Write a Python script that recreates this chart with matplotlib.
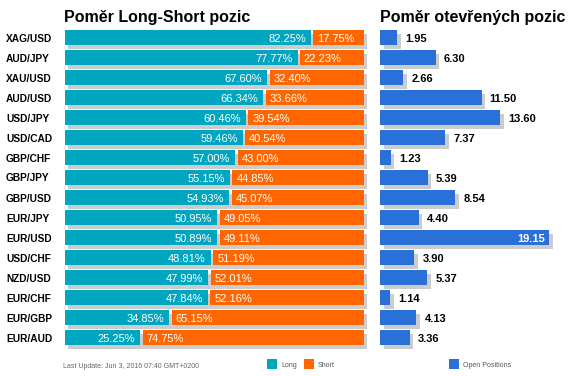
import matplotlib
matplotlib.use("Agg")
import matplotlib.pyplot as plt
from matplotlib.patches import Rectangle
from matplotlib.transforms import offset_copy

plt.rcParams['font.family'] = ['Liberation Sans', 'DejaVu Sans']

pairs = ["XAG/USD", "AUD/JPY", "XAU/USD", "AUD/USD", "USD/JPY", "USD/CAD", "GBP/CHF",
         "GBP/JPY", "GBP/USD", "EUR/JPY", "EUR/USD", "USD/CHF", "NZD/USD", "EUR/CHF",
         "EUR/GBP", "EUR/AUD"]
long_pct = [82.25, 77.77, 67.60, 66.34, 60.46, 59.46, 57.00, 55.15, 54.93, 50.95, 50.89,
            48.81, 47.99, 47.84, 34.85, 25.25]
short_pct = [17.75, 22.23, 32.40, 33.66, 39.54, 40.54, 43.00, 44.85, 45.07, 49.05, 49.11,
             51.19, 52.01, 52.16, 65.15, 74.75]
open_pos = [1.95, 6.30, 2.66, 11.50, 13.60, 7.37, 1.23, 5.39, 8.54, 4.40, 19.15, 3.90,
            5.37, 1.14, 4.13, 3.36]

TEAL = "#00a6c0"
ORANGE = "#ff6600"
BLUE = "#2a70d9"
SHADOW = "#cccccc"

W, H = 569, 376
fig = plt.figure(figsize=(W / 100, H / 100), dpi=100)
fig.patch.set_facecolor("white")

def px_axes(x0, y0, x1, y1):
    return fig.add_axes([x0 / W, 1 - y1 / H, (x1 - x0) / W, (y1 - y0) / H])

n = len(pairs)
top, row_h = 27.5, 20.0
bottom = top + n * row_h
bh = 0.75

axL = px_axes(65, top, 364, bottom)
axR = px_axes(380, top, 565, bottom)
for ax in (axL, axR):
    ax.set_ylim(n - 0.5, -0.5)
    ax.axis("off")
axL.set_xlim(0, 100)
axR.set_xlim(0, 185 / 8.83)

ys = list(range(n))
# shadows (offset ~3px right, ~3.5px down)
dxL = 3 * 100 / 299
dy = 3.5 / row_h
axL.barh([y + dy for y in ys], [l + s for l, s in zip(long_pct, short_pct)], left=dxL,
         height=bh, color=SHADOW, clip_on=False, zorder=1)
gap = 0.8
axL.barh(ys, long_pct, height=bh, color=TEAL, zorder=2)
axL.barh(ys, [s - gap for s in short_pct], left=[l + gap for l in long_pct], height=bh,
         color=ORANGE, zorder=2, clip_on=False)

dxR = 3.5 / 8.83
axR.barh([y + dy for y in ys], open_pos, left=dxR, height=bh, color=SHADOW,
         clip_on=False, zorder=1)
axR.barh(ys, open_pos, height=bh, color=BLUE, zorder=2)

tr_long = offset_copy(axL.transData, fig=fig, x=-5, y=0, units="dots")
tr_short = offset_copy(axL.transData, fig=fig, x=4, y=0, units="dots")
for y, l, s in zip(ys, long_pct, short_pct):
    axL.text(l, y, f"{l:.2f}%", transform=tr_long, ha="right", va="center_baseline",
             color="white", fontsize=8, zorder=3)
    axL.text(l + gap, y, f"{s:.2f}%", transform=tr_short, ha="left", va="center_baseline",
             color="white", fontsize=8, zorder=3, clip_on=False)

tr_out = offset_copy(axR.transData, fig=fig, x=8, y=0, units="dots")
tr_in = offset_copy(axR.transData, fig=fig, x=-4, y=0, units="dots")
vmax = max(open_pos)
for y, v in zip(ys, open_pos):
    if v >= 0.9 * vmax:
        axR.text(v, y, f"{v:.2f}", transform=tr_in, ha="right", va="center_baseline",
                 color="white", fontsize=8, fontweight="bold", zorder=3)
    else:
        axR.text(v, y, f"{v:.2f}", transform=tr_out, ha="left", va="center_baseline",
                 color="black", fontsize=8, fontweight="bold", zorder=3)

for y, p in zip(ys, pairs):
    fig.text(6 / W, 1 - (top + (y + 0.5) * row_h) / H, p, ha="left", va="center_baseline",
             fontsize=7.3, fontweight="bold", color="black")

fig.text(64 / W, 1 - 22 / H, "Poměr Long-Short pozic", ha="left", va="baseline",
         fontsize=11.5, fontweight="bold", color="black")
fig.text(380 / W, 1 - 22 / H, "Poměr otevřených pozic", ha="left", va="baseline",
         fontsize=11.5, fontweight="bold", color="black")

fig.text(63 / W, 1 - 368 / H, "Last Update: Jun 3, 2016 07:40 GMT+0200", ha="left",
         va="baseline", fontsize=5, color="#666666")

legend_items = [(267, TEAL, "Long"), (304, ORANGE, "Short"), (449, BLUE, "Open Positions")]
for x0, c, lab in legend_items:
    fig.add_artist(Rectangle((x0 / W, 1 - 369 / H), 10 / W, 10 / H, transform=fig.transFigure,
                             facecolor=c, edgecolor="none"))
    fig.text((x0 + 14) / W, 1 - 367 / H, lab, ha="left", va="baseline", fontsize=5,
             color="#555555")

fig.savefig("out.png", dpi=100, facecolor="white")
